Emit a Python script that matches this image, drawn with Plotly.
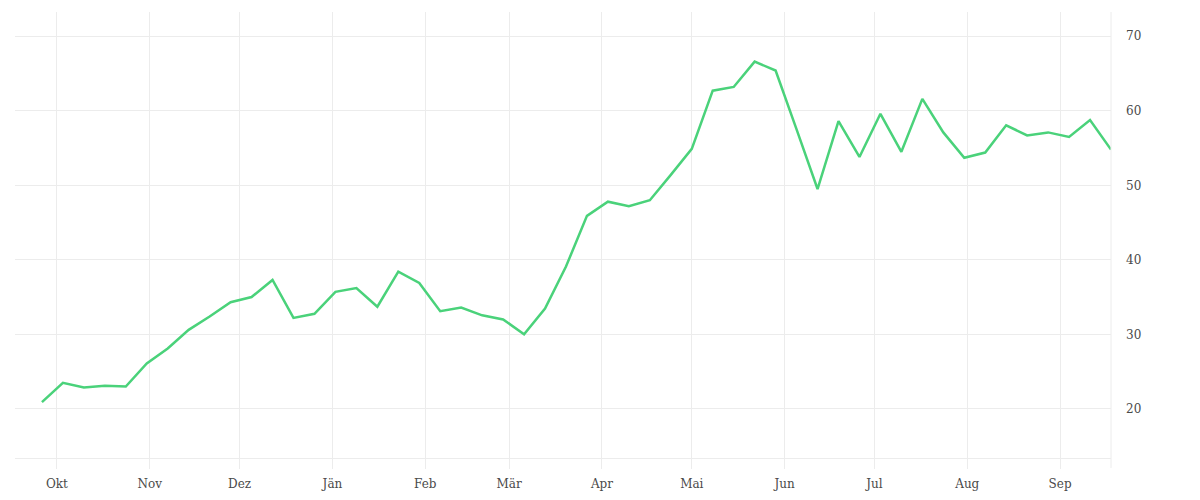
import pandas as pd
import plotly.graph_objects as go

# weekly values, first week 2021-09-26
start_date = "2021-09-26"
values = [
    20.9, 23.5, 22.85, 23.1, 23.0, 26.1, 28.1, 30.6, 32.4, 34.3,
    35.0, 37.3, 32.2, 32.75, 35.7, 36.2, 33.7, 38.4, 36.9, 33.1,
    33.6, 32.55, 32.0, 30.0, 33.45, 39.1, 45.9, 47.8, 47.2, 48.0,
    51.4, 54.9, 62.7, 63.2, 66.6, 65.4, 57.5, 49.5, 58.6, 53.8,
    59.6, 54.5, 61.6, 57.1, 53.7, 54.4, 58.05, 56.7, 57.1, 56.5,
    58.75, 54.8,
]
dates = pd.date_range(start_date, periods=len(values), freq="7D")

month_ticks = pd.date_range("2021-10-01", "2022-09-01", freq="MS")
month_labels = ["Okt", "Nov", "Dez", "Jän", "Feb", "Mär",
                "Apr", "Mai", "Jun", "Jul", "Aug", "Sep"]
y_ticks = [20, 30, 40, 50, 60, 70]

grid = "#ececec"
text_col = "#4a4a4a"

fig = go.Figure()
fig.add_trace(go.Scatter(
    x=dates, y=values,
    mode="lines",
    line=dict(color="#4ad27a", width=2.5),
    hoverinfo="x+y",
    showlegend=False,
))

# right border line, reaching down like the x ticks
fig.add_shape(
    type="line", xref="paper", yref="paper",
    x0=1, x1=1, y0=-0.0224, y1=1,
    line=dict(color=grid, width=1),
)

# margins account for the 8px body margin of the page
fig.update_layout(
    width=1200, height=500,
    margin=dict(l=7, r=97, t=4, b=50),
    plot_bgcolor="white",
    paper_bgcolor="white",
    font=dict(family="DejaVu Serif", size=12, color=text_col),
    xaxis=dict(
        range=["2021-09-17", "2022-09-18"],
        tickvals=month_ticks,
        ticktext=month_labels,
        showgrid=True, gridcolor=grid, gridwidth=1,
        ticks="outside", ticklen=10, tickcolor=grid,
        ticklabelstandoff=5,
        showline=True, linecolor=grid, linewidth=1,
        zeroline=False,
    ),
    yaxis=dict(
        side="right",
        range=[13.4, 73.26],
        tickvals=y_ticks,
        showgrid=True, gridcolor=grid, gridwidth=1,
        ticks="", ticklabelstandoff=14,
        zeroline=False,
    ),
)

fig.write_html("out.html")
